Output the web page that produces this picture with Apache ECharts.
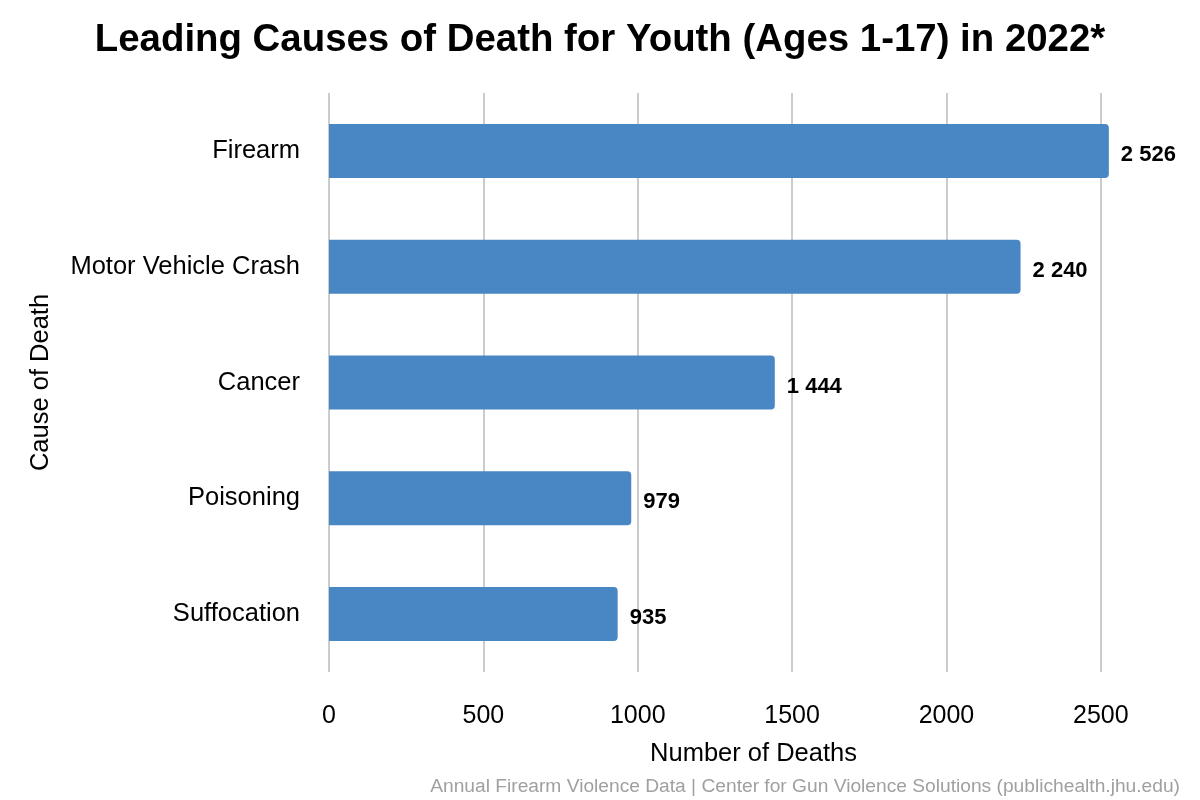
<!DOCTYPE html>
<html>
<head>
<meta charset="utf-8">
<script src="https://cdn.jsdelivr.net/npm/echarts@6/dist/echarts.min.js"></script>
<style>
  html, body { margin: 0; padding: 0; background: #fff; }
  #chart { width: 1200px; height: 800px; }
</style>
</head>
<body>
<div id="chart"></div>
<script>
// data
const causes = ['Firearm', 'Motor Vehicle Crash', 'Cancer', 'Poisoning', 'Suffocation'];
const deaths = [2526, 2240, 1444, 979, 935];

const chart = echarts.init(document.getElementById('chart'));

// 2526 -> "2 526"
function spaced(n) {
  return String(n).replace(/\B(?=(\d{3})+(?!\d))/g, ' ');
}

const option = {
  backgroundColor: '#ffffff',
  textStyle: { fontFamily: 'Liberation Sans, Arial, sans-serif' },
  title: [
    {
      text: 'Leading Causes of Death for Youth (Ages 1-17) in 2022*',
      left: 'center',
      top: 16,
      textStyle: { fontSize: 38.4, fontWeight: 'bold', color: '#000' }
    },
    {
      text: 'Annual Firearm Violence Data | Center for Gun Violence Solutions (publichealth.jhu.edu)',
      right: 15,
      top: 772,
      textStyle: { fontSize: 19.2, fontWeight: 'normal', color: '#a0a0a0' }
    }
  ],
  grid: { left: 329, right: 22, top: 93, bottom: 128, containLabel: false },
  xAxis: {
    type: 'value',
    min: 0,
    max: 2750,
    interval: 500,
    name: 'Number of Deaths',
    nameLocation: 'middle',
    nameGap: 69,
    nameTextStyle: { fontSize: 25.5, color: '#000' },
    axisLine: { show: false },
    axisTick: { show: false },
    axisLabel: { fontSize: 25, color: '#000', margin: 32, showMaxLabel: false, formatter: v => String(v) },
    splitLine: { show: true, showMaxLine: false, lineStyle: { color: '#cccccc', width: 2 } }
  },
  yAxis: {
    type: 'category',
    data: causes,
    inverse: true,
    name: 'Cause of Death',
    nameLocation: 'middle',
    nameGap: 275,
    nameRotate: 90,
    nameTextStyle: { fontSize: 25.5, color: '#000' },
    axisLine: { show: false },
    axisTick: { show: false },
    axisLabel: { fontSize: 25.5, color: '#000', margin: 29 },
    splitLine: { show: false }
  },
  series: [
    {
      type: 'bar',
      data: deaths,
      barWidth: 54,
      itemStyle: { color: '#4886C4', borderRadius: [0, 4, 4, 0] },
      label: {
        show: true,
        position: 'right',
        distance: 12,
        offset: [0, 4],
        fontSize: 22,
        fontWeight: 'bold',
        color: '#000',
        formatter: p => spaced(p.value)
      }
    }
  ]
};

chart.setOption(option);
</script>
</body>
</html>
